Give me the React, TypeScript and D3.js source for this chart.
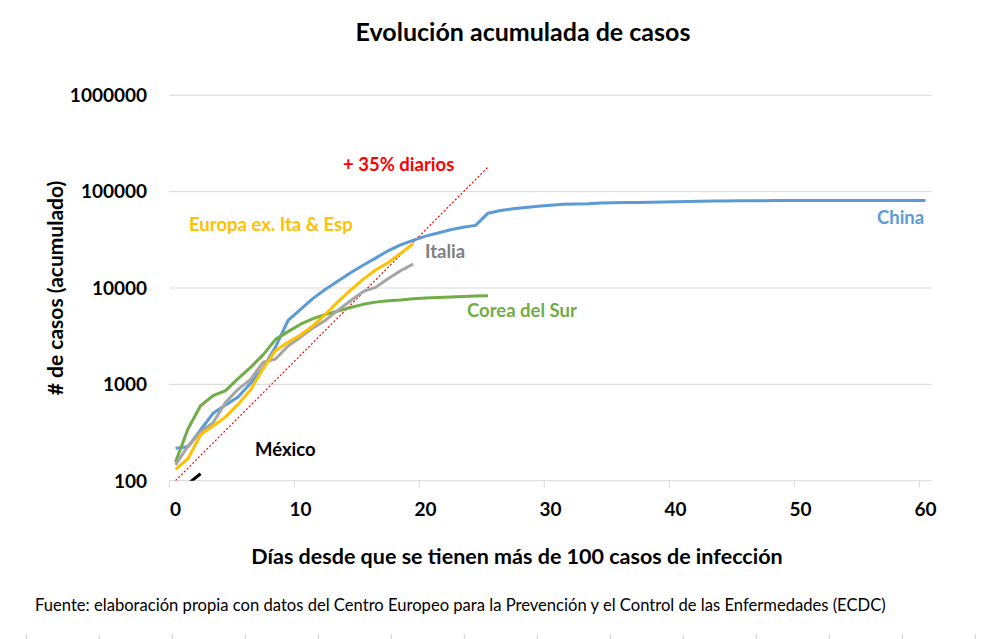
import React, { useEffect, useRef } from 'react'
import * as d3 from 'd3'

// cumulative cases, index = days since passing 100 cases
const chinaCases = [
  217, 225, 336, 500, 611, 740, 1025, 1470, 2450, 4600, 6000, 7800, 9700,
  11800, 14400, 17205, 20438, 24324, 28018, 31161, 34546, 37198, 40171, 42638,
  44653, 59804, 63851, 66492, 68500, 70548, 72436, 74185, 74576, 75077, 76119,
  76792, 77042, 77262, 77780, 78191, 78630, 78959, 79389, 79968, 80174, 80302,
  80422, 80565, 80710, 80813, 80859, 80904, 80924, 80955, 80980, 81003, 81021,
  81048, 81077, 81116, 81151,
]
const coreaCases = [
  156, 346, 600, 763, 860, 1146, 1500, 2022, 2931, 3526, 4212, 4812, 5328,
  5766, 6284, 6767, 7134, 7382, 7513, 7755, 7869, 7979, 8086, 8162, 8236, 8320,
]
const italiaCases = [
  146, 229, 322, 400, 650, 888, 1128, 1694, 1835, 2502, 3089, 3858, 4636, 5883,
  7375, 9172, 10149, 12462, 15113, 17660,
]
const europaCases = [
  131, 170, 300, 370, 460, 620, 880, 1450, 2250, 2730, 3250, 4060, 5370, 7210,
  9500, 12300, 15400, 18300, 22900, 28600,
]
const mexicoCases = [82, 93, 118]
const trendDays = [0, 25]
const trendCases = [100, 180000]

const yTicks = [100, 1000, 10000, 100000, 1000000]
const xTicks = [0, 10, 20, 30, 40, 50, 60]

const series = [
  { name: 'China', values: chinaCases, color: '#5B9BD5' },
  { name: 'Corea del Sur', values: coreaCases, color: '#70AD47' },
  { name: 'Italia', values: italiaCases, color: '#A5A5A5' },
  { name: 'Europa ex. Ita & Esp', values: europaCases, color: '#FFC000' },
  { name: 'México', values: mexicoCases, color: '#000000' },
]

const font = 'Lato, "Open Sans", sans-serif'

export default function App(): React.ReactElement {
  const ref = useRef<HTMLDivElement>(null)

  useEffect(() => {
    const width = 983
    const height = 639
    const left = 169.3
    const right = 931.8
    const top = 95.3
    const bottom = 480.7

    const x = d3.scaleLinear().domain([-0.5, 60.5]).range([left, right])
    const y = d3.scaleLog().domain([100, 1000000]).range([bottom, top])

    d3.select(ref.current).select('svg').remove()

    const svg = d3
      .select(ref.current)
      .append('svg')
      .attr('width', width)
      .attr('height', height)
      .attr('viewBox', `0 0 ${width} ${height}`)
      .style('position', 'absolute')
      .style('left', 0)
      .style('top', 0)
      .style('background', '#fff')
      .style('font-family', font)

    svg
      .append('defs')
      .append('clipPath')
      .attr('id', 'plot')
      .append('rect')
      .attr('x', left)
      .attr('y', top - 10)
      .attr('width', right - left + 10)
      .attr('height', bottom - top + 10)

    // horizontal grid
    svg
      .append('g')
      .selectAll('line')
      .data(yTicks)
      .join('line')
      .attr('x1', left)
      .attr('x2', right)
      .attr('y1', (d) => y(d))
      .attr('y2', (d) => y(d))
      .attr('stroke', '#D9D9D9')
      .attr('stroke-width', 1)

    // x tick marks between categories
    svg
      .append('g')
      .selectAll('line')
      .data(xTicks)
      .join('line')
      .attr('x1', (d) => x(d - 0.5))
      .attr('x2', (d) => x(d - 0.5))
      .attr('y1', bottom)
      .attr('y2', bottom + 7)
      .attr('stroke', '#D9D9D9')

    // y labels
    svg
      .append('g')
      .selectAll('text')
      .data(yTicks)
      .join('text')
      .attr('x', 147)
      .attr('y', (d) => y(d))
      .attr('dy', '0.36em')
      .attr('text-anchor', 'end')
      .attr('font-size', 19)
      .attr('font-weight', 700)
      .text((d) => String(d))

    // x labels
    svg
      .append('g')
      .selectAll('text')
      .data(xTicks)
      .join('text')
      .attr('x', (d) => x(d))
      .attr('y', 516)
      .attr('text-anchor', 'middle')
      .attr('font-size', 19)
      .attr('font-weight', 700)
      .text((d) => String(d))

    const plot = svg.append('g').attr('clip-path', 'url(#plot)')

    const line = d3
      .line<number>()
      .x((_, i) => x(i))
      .y((d) => y(d))

    plot
      .append('path')
      .datum(trendCases)
      .attr(
        'd',
        d3
          .line<number>()
          .x((_, i) => x(trendDays[i]))
          .y((d) => y(d))
      )
      .attr('fill', 'none')
      .attr('stroke', '#FF0000')
      .attr('stroke-width', 1.2)
      .attr('stroke-dasharray', '2,2')

    plot
      .selectAll('path.series')
      .data(series)
      .join('path')
      .attr('class', 'series')
      .attr('d', (s) => line(s.values))
      .attr('fill', 'none')
      .attr('stroke', (s) => s.color)
      .attr('stroke-width', 3)
      .attr('stroke-linejoin', 'round')

    const labels = [
      { text: '+ 35% diarios', color: '#FF0000', x: 343, y: 164 },
      { text: 'Europa ex. Ita & Esp', color: '#FFC000', x: 189, y: 224 },
      { text: 'Italia', color: '#7F7F7F', x: 425, y: 251 },
      { text: 'China', color: '#5B9BD5', x: 877, y: 217 },
      { text: 'Corea del Sur', color: '#70AD47', x: 467, y: 310 },
      { text: 'México', color: '#000000', x: 255, y: 449 },
    ]

    svg
      .append('g')
      .selectAll('text')
      .data(labels)
      .join('text')
      .attr('x', (d) => d.x)
      .attr('y', (d) => d.y)
      .attr('dy', '0.36em')
      .attr('fill', (d) => d.color)
      .attr('font-size', 18.5)
      .attr('font-weight', 700)
      .text((d) => d.text)

    svg
      .append('text')
      .attr('x', 523)
      .attr('y', 41)
      .attr('text-anchor', 'middle')
      .attr('font-size', 25)
      .attr('font-weight', 700)
      .text('Evolución acumulada de casos')

    svg
      .append('text')
      .attr('transform', `translate(55,288) rotate(-90)`)
      .attr('dy', '0.36em')
      .attr('text-anchor', 'middle')
      .attr('font-size', 21)
      .attr('font-weight', 700)
      .text('# de casos (acumulado)')

    svg
      .append('text')
      .attr('x', 517)
      .attr('y', 556)
      .attr('dy', '0.36em')
      .attr('text-anchor', 'middle')
      .attr('font-size', 21.5)
      .attr('font-weight', 700)
      .text('Días desde que se tienen más de 100 casos de infección')

    svg
      .append('text')
      .attr('x', 35)
      .attr('y', 605)
      .attr('dy', '0.36em')
      .attr('font-size', 16.6)
      .text(
        'Fuente: elaboración propia con datos del Centro Europeo para la Prevención y el Control de las Enfermedades (ECDC)'
      )

    // spreadsheet cell borders peeking at the bottom edge
    svg
      .append('g')
      .selectAll('line')
      .data(d3.range(26.3, width, 73))
      .join('line')
      .attr('x1', (d) => d)
      .attr('x2', (d) => d)
      .attr('y1', 634)
      .attr('y2', 639)
      .attr('stroke', '#D0D0D0')
  }, [])

  return <div ref={ref}></div>
}
